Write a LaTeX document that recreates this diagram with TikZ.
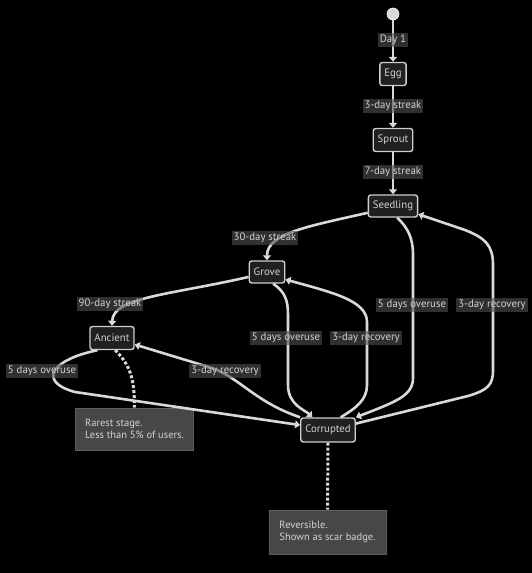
\documentclass[tikz,border=0pt]{standalone}
\usepackage{fontspec}
\setmainfont{PT Sans}
\usepackage{tikz}
\usetikzlibrary{arrows.meta}
\definecolor{statefill}{HTML}{1F2020}
\definecolor{stateline}{HTML}{CFCFCF}
\definecolor{txt}{HTML}{D2D2D2}
\definecolor{edgeline}{HTML}{D9D9D9}
\definecolor{lblfill}{HTML}{505050}
\definecolor{notefill}{HTML}{474747}
\definecolor{noteline}{HTML}{5E5E5E}

\begin{document}
\begin{tikzpicture}[x=1pt,y=-1pt,
	state/.style={draw=stateline,fill=statefill,text=txt,line width=1.4pt,rounded corners=2.5pt,
		minimum height=23pt,inner xsep=4.5pt,font=\fontsize{10.8}{12}\selectfont},
	trans/.style={draw=edgeline,line width=2.6pt,-{Triangle[length=5pt,width=8pt]}},
	lbl/.style={fill=lblfill,fill opacity=0.6,text opacity=1,text=txt,inner xsep=2pt,inner ysep=2.5pt,
		font=\fontsize{10.8}{12}\selectfont},
	notebox/.style={draw=noteline,fill=notefill,text=txt,line width=1pt,align=left,inner xsep=10pt,
		minimum width=117pt,font=\fontsize{10.5}{12}\selectfont},
	notelink/.style={draw=edgeline,line width=3pt,dash pattern=on 3pt off 2pt}]
	\useasboundingbox[fill=black] (0,0) rectangle (532,573);

	\node[circle,fill=edgeline,draw=white,line width=0.6pt,minimum size=12pt,inner sep=0pt] (start) at (393,14) {};
	\node[state] (egg) at (393,74) {Egg};
	\node[state] (sprout) at (393,140) {Sprout};
	\node[state,minimum height=22pt] (seedling) at (393,206) {Seedling};
	\node[state,minimum height=22pt] (grove) at (267,272) {Grove};
	\node[state] (ancient) at (112,338) {Ancient};
	\node[state,minimum height=24pt] (corrupted) at (328,430) {Corrupted};
	\node[notebox,minimum height=42pt] (rarest) at (134.5,429) {Rarest stage.\\Less than 5\% of users.};
	\node[notebox,minimum height=44pt] (scar) at (327.5,532) {Reversible.\\Shown as scar badge.};

	\draw[trans] (start) -- (egg);
	\draw[trans] (egg) -- (sprout);
	\draw[trans] (sprout) -- (seedling);
	\draw[trans] (seedling.195) .. controls (310,226) and (267,233) .. (grove.north);
	\draw[trans] (grove.195) .. controls (170,295) and (113,297) .. (ancient.north);
	\draw[trans] (seedling.-70) .. controls (408,228) and (413,238) .. (413,255) -- (413,378)
		.. controls (413,396) and (395,402) .. (corrupted.north east);
	\draw[trans] (corrupted.13) -- (468,396) .. controls (488,390) and (493,385) .. (493,370) -- (493,265)
		.. controls (493,245) and (485,238) .. (465,230) -- (seedling.-18);
	\draw[trans] (grove.-62) .. controls (285,292) and (288,300) .. (288,315) -- (288,385)
		.. controls (288,405) and (305,410) .. (corrupted.141);
	\draw[trans] (corrupted.45) .. controls (356,408) and (367,400) .. (367,385) -- (367,322)
		.. controls (367,300) and (330,292) .. (grove.-22);
	\draw[trans] (ancient.220) .. controls (50,360) and (38,382) .. (75,392) -- (corrupted.170);
	\draw[trans] (corrupted.north west) .. controls (255,402) and (240,378) .. (212,368) -- (ancient.-16);
	\draw[notelink] (ancient.-75) .. controls (130,365) and (134.5,378) .. (rarest.north);
	\draw[notelink] (corrupted.south) -- (scar.north);

	\node[lbl] (day1) at (393,40) {Day 1};
	\node[lbl] (streak3) at (393,106) {3-day streak};
	\node[lbl] (streak7) at (393,172) {7-day streak};
	\node[lbl] (streak30) at (265,238) {30-day streak};
	\node[lbl] (streak90) at (110,304) {90-day streak};
	\node[lbl] (overuse1) at (412,305) {5 days overuse};
	\node[lbl] (recovery1) at (492,305) {3-day recovery};
	\node[lbl] (overuse2) at (286,338) {5 days overuse};
	\node[lbl] (recovery2) at (366,338) {3-day recovery};
	\node[lbl] (overuse3) at (42,371) {5 days overuse};
	\node[lbl] (recovery3) at (225,371) {3-day recovery};
\end{tikzpicture}
\end{document}
